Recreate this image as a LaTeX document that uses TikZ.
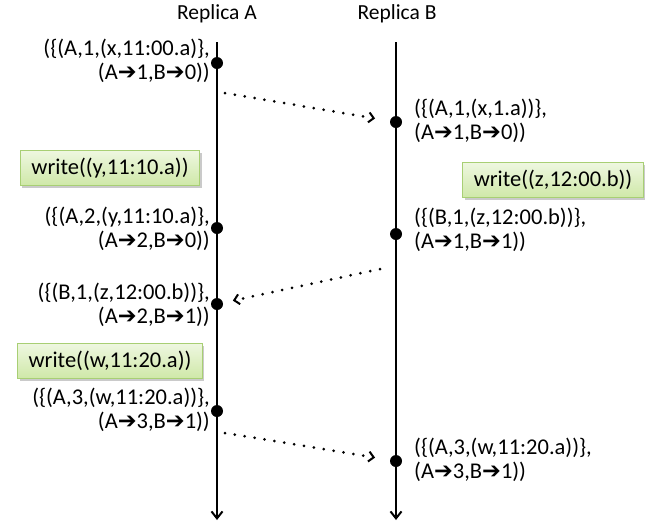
\documentclass[tikz,border=0pt]{standalone}
\usepackage{fontspec}
\setmainfont{Carlito}
\newfontfamily\dvfont{DejaVu Sans}
\usetikzlibrary{arrows.meta,shadows}
\newcommand{\ra}{{\dvfont\bfseries\char"2794}}
\definecolor{boxtop}{HTML}{EEF7E0}
\definecolor{boxbot}{HTML}{CFE8A8}
\definecolor{boxedge}{HTML}{A8CF74}
\begin{document}
\begin{tikzpicture}[x=1pt,y=-1pt,
  every node/.style={font=\fontsize{22.5}{24.5}\selectfont},
  timeline/.style={line width=2pt,-{Straight Barb[length=7pt,width=11pt,line width=2pt]}},
  msg/.style={line width=3pt,dash pattern=on 0pt off 10pt,line cap=round,
    -{Straight Barb[length=5pt,width=10pt,line width=2pt]}},
  dot/.style={circle,fill=black,inner sep=0pt,minimum size=12pt},
  lstate/.style={anchor=east,align=right,inner sep=0pt},
  rstate/.style={anchor=west,align=left,inner sep=0pt},
  wbox/.style={draw=boxedge,line width=1pt,top color=boxtop,bottom color=boxbot,
    minimum height=35pt,inner xsep=11pt,
    drop shadow={shadow xshift=2pt,shadow yshift=-2pt,opacity=0.35,fill=black!60}},
  title/.style={inner sep=0pt,font=\fontsize{21.5}{24}\selectfont}]
\useasboundingbox (0,0) rectangle (653,523);
% titles
\node[title] (ta) at (217,14) {Replica A};
\node[title] (tb) at (397,14) {Replica B};
% timelines
\coordinate (topA) at (217,42);
\coordinate (botA) at (217,520);
\coordinate (topB) at (396,42);
\coordinate (botB) at (396,520);
\draw[timeline] (topA) -- (botA);
\draw[timeline] (topB) -- (botB);
% events
\node[dot] (a1) at (217,63) {};
\node[dot] (a2) at (217,228) {};
\node[dot] (a3) at (217,304) {};
\node[dot] (a4) at (217,411) {};
\node[dot] (b1) at (396,122) {};
\node[dot] (b2) at (396,234) {};
\node[dot] (b3) at (396,461) {};
% state labels
\node[lstate] (la1) at (210,61) {(\{(A,1,(x,11:00.a)\},\\(A\ra1,B\ra0))};
\node[lstate] (la2) at (210,229) {(\{(A,2,(y,11:10.a)\},\\(A\ra2,B\ra0))};
\node[lstate] (la3) at (210,305) {(\{(B,1,(z,12:00.b))\},\\(A\ra2,B\ra1))};
\node[lstate] (la4) at (210,410) {(\{(A,3,(w,11:20.a))\},\\(A\ra3,B\ra1))};
\node[rstate] (lb1) at (414,121) {(\{(A,1,(x,1.a))\},\\(A\ra1,B\ra0))};
\node[rstate] (lb2) at (414,230) {(\{(B,1,(z,12:00.b))\},\\(A\ra1,B\ra1))};
\node[rstate] (lb3) at (414,460) {(\{(A,3,(w,11:20.a))\},\\(A\ra3,B\ra1))};
% write boxes
\node[wbox] (w1) at (110,168) {write((y,11:10.a))};
\node[wbox] (w2) at (553,180) {write((z,12:00.b))};
\node[wbox] (w3) at (110,361) {write((w,11:20.a))};
% messages
\coordinate (s1) at (225,93);
\coordinate (s2) at (380,269);
\coordinate (s3) at (225,433);
\draw[msg,shorten >=15pt] (s1) -- (b1);
\draw[msg,shorten >=10pt] (s2) -- (a3);
\draw[msg,shorten >=15pt] (s3) -- (b3);
\end{tikzpicture}
\end{document}
